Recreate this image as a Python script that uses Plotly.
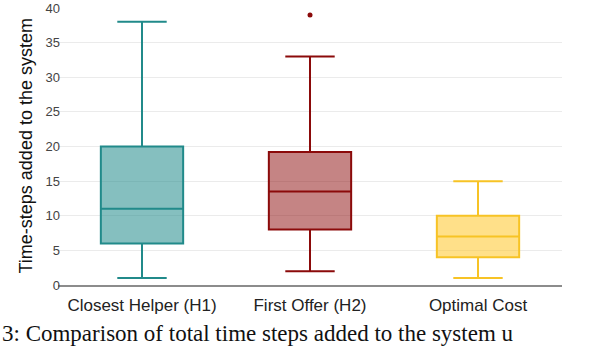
import plotly.graph_objects as go

categories = ["Closest Helper (H1)", "First Offer (H2)", "Optimal Cost"]
lower_fence = [1, 2, 1]
q1_vals = [6, 8, 4]
median_vals = [11, 13.5, 7]
q3_vals = [20, 19.2, 10]
upper_fence = [38, 33, 15]
outlier_cats = ["First Offer (H2)"]
outlier_vals = [39]

line_colors = ["#218a8a", "#8b0a0a", "#f7c325"]
fill_colors = ["rgba(33,138,138,0.55)", "rgba(139,10,10,0.5)", "rgba(255,198,40,0.55)"]

fig = go.Figure()
for i, c in enumerate(categories):
    fig.add_trace(go.Box(
        x=[c], q1=[q1_vals[i]], median=[median_vals[i]], q3=[q3_vals[i]],
        lowerfence=[lower_fence[i]], upperfence=[upper_fence[i]],
        line=dict(color=line_colors[i], width=2), fillcolor=fill_colors[i],
        whiskerwidth=0.6, width=0.49, boxpoints=False, showlegend=False,
    ))

fig.add_trace(go.Scatter(
    x=outlier_cats, y=outlier_vals, mode="markers",
    marker=dict(color="#8b0a0a", size=5), showlegend=False,
))

# y-axis title
fig.add_annotation(
    text="Time-steps added to the system", textangle=-90,
    xref="paper", yref="paper", x=(25 - 58) / 504, y=0.5, xanchor="center", yanchor="middle",
    showarrow=False, font=dict(family="Liberation Sans", size=18, color="#111"),
)

# caption
fig.add_annotation(
    text="3: Comparison of total time steps added to the system u",
    xref="paper", yref="paper", x=-58/504, y=-63/277, xanchor="left", yanchor="bottom",
    showarrow=False, font=dict(family="Liberation Serif", size=23, color="#111"),
)

fig.update_layout(
    width=590, height=348,
    margin=dict(l=58, r=28, t=8, b=63),
    plot_bgcolor="white", paper_bgcolor="white",
    font=dict(family="Liberation Sans", color="#222"),
    xaxis=dict(range=[-0.5, 2.5], showline=True, linecolor="#8c8c8c", linewidth=1.5,
               tickfont=dict(size=17, color="#222"), showgrid=False, automargin=False,
               ticklabelstandoff=4),
    yaxis=dict(range=[0, 40], tickvals=[0, 5, 10, 15, 20, 25, 30, 35, 40],
               gridcolor="#ebebeb", zeroline=False, automargin=False,
               tickfont=dict(size=13, color="#444"), ticklabelstandoff=-3),
)

fig.write_html("out.html", config={"displayModeBar": False},
               post_script="document.body.style.margin='0';")
